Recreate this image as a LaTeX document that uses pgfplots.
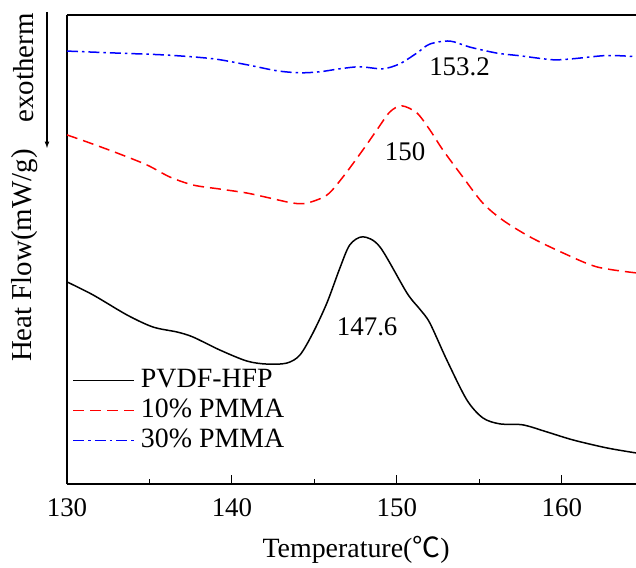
\documentclass[border=0pt]{standalone}
\usepackage{fontspec}
\setmainfont{Liberation Serif}
\newfontfamily\cjk{Noto Sans CJK SC}
\usepackage{pgfplots}
\pgfplotsset{compat=1.18}
\begin{document}
\begin{tikzpicture}
\begin{axis}[
  scale only axis,
  width=569bp, height=469bp,
  xmin=130, xmax=164.5,
  ymin=-0.33, ymax=13.71,
  axis y line*=left,
  axis x line*=box,
  axis line style={line width=1.6bp},
  tick pos=left,
  xtick={130,140,150,160},
  minor xtick={135,145,155},
  ytick=\empty,
  minor ytick={0,...,13},
  tick align=inside,
  major tick length=9bp,
  minor tick length=5bp,
  xtick style={line width=1bp,black},
  ytick style={line width=0.8bp,black},
  /pgf/number format/assume math mode=true,
  font=\fontsize{27}{30}\selectfont,
  xticklabel style={inner sep=0pt, yshift=-14bp, font=\fontsize{27}{30}\selectfont},
  legend cell align=left,
  legend style={draw=none, fill=none, at={(rel axis cs:0.004,0.255)}, anchor=north west,
    font=\fontsize{28}{30}\selectfont, row sep=2bp,
    nodes={inner sep=1bp, text height=20bp, text depth=6bp},
    /tikz/every odd column/.append style={column sep=5bp}},
  legend image code/.code={\draw[#1] (0bp,0bp) -- (61bp,0bp);},
  clip=true,
]
\addplot[black, line width=1.5bp, smooth, tension=0.5] coordinates {
(130,5.72) (131.58,5.33) (133.64,4.73) (135.21,4.37) (136.67,4.22) (137.64,4.07)
(139.27,3.68) (140.91,3.35) (142.12,3.26) (143.33,3.29) (144.12,3.53) (144.91,4.19)
(145.76,5.09) (146.55,6.14) (147.15,6.83) (147.94,7.07) (148.97,6.77) (150.61,5.39)
(151.4,4.90) (152.0,4.49) (153.03,3.38) (154.24,2.19) (155.21,1.65) (156.24,1.47) (157.64,1.44)
(159.09,1.23) (160.67,0.99) (162.73,0.75) (164.5,0.60)
};
\addlegendentry{PVDF-HFP}
\addplot[red, line width=1.5bp, smooth, tension=0.5, dash pattern=on 11bp off 6bp] coordinates {
(130,10.12) (131.21,9.91) (133.03,9.58) (134.85,9.22) (136.24,8.86) (137.64,8.62)
(139.27,8.50) (140.91,8.38) (142.30,8.23) (143.70,8.08) (144.55,8.08) (145.76,8.32)
(146.73,8.86) (147.94,9.67) (148.79,10.27) (149.58,10.81) (150.30,10.99) (151.21,10.78)
(152.0,10.27) (152.79,9.67) (154.0,8.86) (155.21,8.08) (156.42,7.57) (158.06,7.07)
(160.06,6.59) (162.12,6.17) (164.5,5.99)
};
\addlegendentry{10\% PMMA}
\addplot[blue, line width=1.5bp, smooth, tension=0.5, dash pattern=on 11bp off 4bp on 2.5bp off 4bp] coordinates {
(130,12.63) (133.03,12.57) (136.06,12.51) (138.85,12.40) (140.91,12.22) (142.73,12.04)
(144.12,11.98) (145.33,12.01) (146.55,12.10) (147.76,12.16) (149.15,12.10) (150.18,12.25)
(151.21,12.57) (152.0,12.84) (153.21,12.93) (154.42,12.75) (156.06,12.57) (157.45,12.49)
(159.45,12.37) (160.67,12.40) (162.48,12.49) (163.52,12.49) (164.5,12.46)
};
\addlegendentry{30\% PMMA}
\node at (axis cs:153.8,12.16) {153.2};
\node at (axis cs:150.5,9.61) {150};
\node at (axis cs:148.2,4.37) {147.6};
\coordinate (bl) at (rel axis cs:0,0);
\coordinate (tr) at (rel axis cs:1,1);
\end{axis}
\draw[line width=1.6bp] (tr-|bl) -- (tr);
\node[rotate=90, font=\fontsize{29}{30}\selectfont] at ([shift={(-42bp,0.487*469bp)}]bl) {Heat Flow(mW/g)};
\node[rotate=90, font=\fontsize{29}{30}\selectfont] at ([shift={(-43bp,0.887*469bp)}]bl) {exotherm};
\draw[-latex, line width=1.2bp] ([shift={(-20bp,3bp)}]tr-|bl) -- ([shift={(-20bp,-133bp)}]tr-|bl);
\node[font=\fontsize{28}{30}\selectfont] at ([shift={(0.508*569bp,-66bp)}]bl) {Temperature({\cjk ℃})};
\pgfresetboundingbox
\path ([shift={(-67bp,-84bp)}]bl) rectangle ([shift={(0bp,15bp)}]tr);
\end{tikzpicture}
\end{document}
